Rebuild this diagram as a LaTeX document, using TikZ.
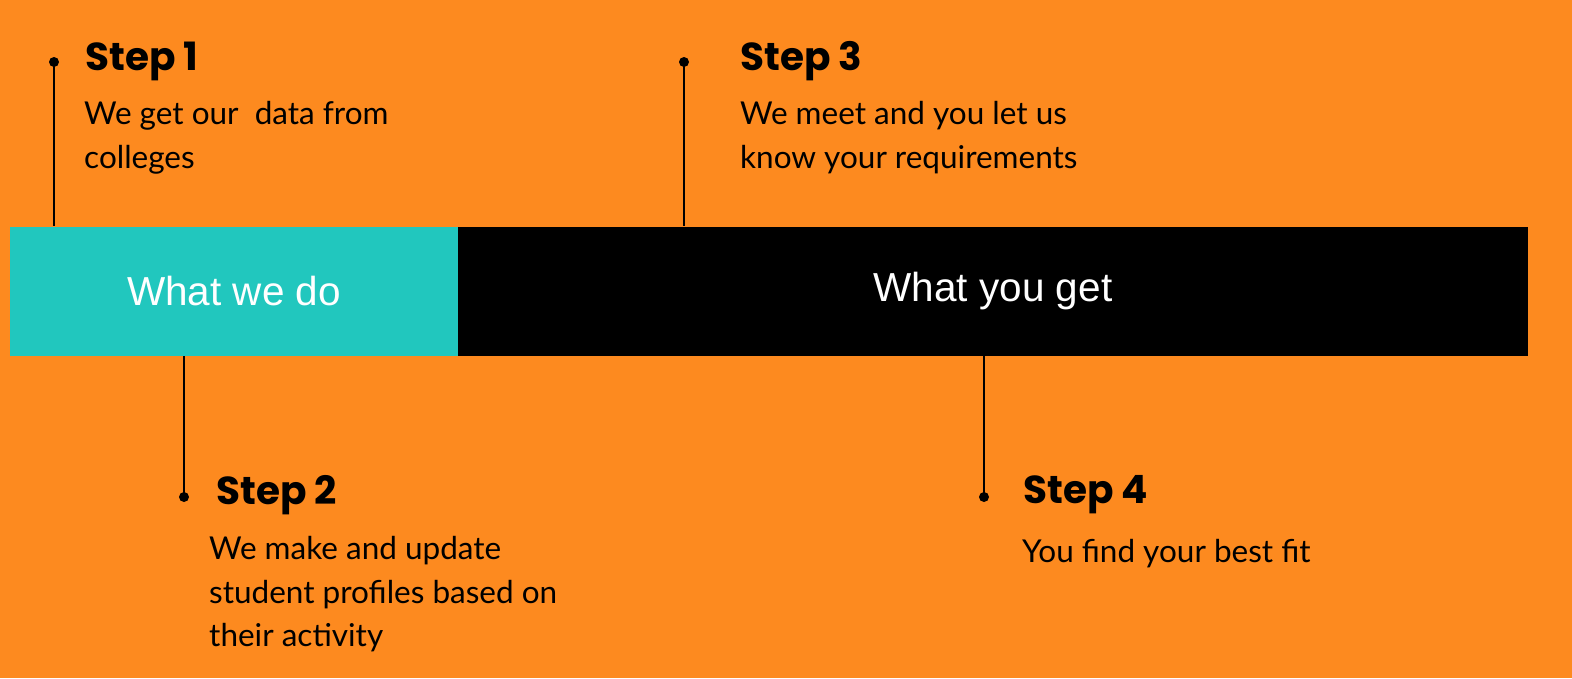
\documentclass[tikz,border=0pt]{standalone}
\usepackage{fontspec}
\setmainfont{Lato}
\newfontfamily\headfont{Poppins}
\newfontfamily\boxfont{Liberation Sans}
\definecolor{bgorange}{RGB}{253,138,31}
\definecolor{teal}{RGB}{33,199,190}
\begin{document}
\begin{tikzpicture}[x=1pt,y=-1pt,
  boxbase/.style={draw=none,rectangle,inner sep=0pt,minimum height=129pt,text=white,font=\boxfont\fontsize{40.5}{48}\selectfont},
  dotnode/.style={circle,fill=black,inner sep=0pt,minimum size=10pt},
  stem/.style={line width=2pt,draw=black},
  title/.style={anchor=base west,inner sep=0pt,font=\headfont\bfseries\fontsize{39}{46}\selectfont},
  body/.style={anchor=base west,inner sep=0pt,font=\fontsize{31.5}{44}\selectfont}]
\fill[bgorange] (0,0) rectangle (1572,678);
\useasboundingbox (0,0) rectangle (1572,678);
% boxes
\node[boxbase,fill=teal,minimum width=448pt] (do) at (234,291) {What we do};
\node[boxbase,fill=black,minimum width=1070pt] (get) at (993,291) {What you get};
% step 1
\node[dotnode] (d1) at (54,62) {};
\draw[stem] (d1.center) -- (d1 |- do.north);
\node[title] (t1) at (85,70) {Step 1};
\node[body] (b1a) at (84,124) {We get our \ data from};
\node[body] (b1b) at (84,168) {colleges};
% step 3
\node[dotnode] (d3) at (684,62) {};
\draw[stem] (d3.center) -- (d3 |- get.north);
\node[title] (t3) at (740,70) {Step 3};
\node[body] (b3a) at (740,124) {We meet and you let us};
\node[body] (b3b) at (740,168) {know your requirements};
% step 2
\node[dotnode] (d2) at (184,497) {};
\draw[stem] (d2.center) -- (d2 |- do.south);
\node[title] (t2) at (216,504) {Step 2};
\node[body] (b2a) at (209,559) {We make and update};
\node[body] (b2b) at (209,603) {student profiles based on};
\node[body] (b2c) at (209,646) {their activity};
% step 4
\node[dotnode] (d4) at (984,497) {};
\draw[stem] (d4.center) -- (d4 |- get.south);
\node[title] (t4) at (1023,503) {Step 4};
\node[body] (b4a) at (1022,562) {You find your best fit};
\end{tikzpicture}
\end{document}
